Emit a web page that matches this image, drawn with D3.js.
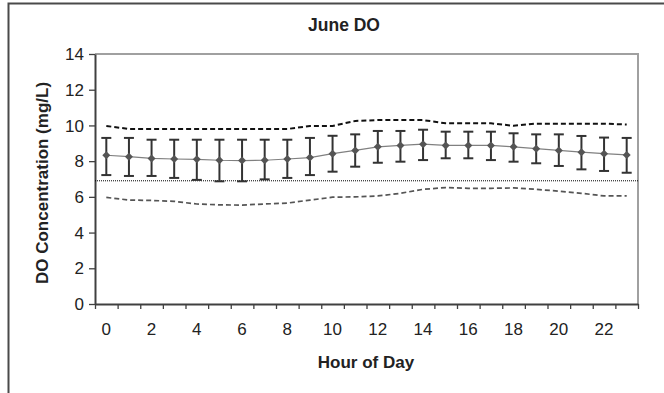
<!DOCTYPE html>
<html><head><meta charset="utf-8">
<script src="https://cdn.jsdelivr.net/npm/d3@7"></script>
<style>body{margin:0;background:#fff;} svg{display:block;}</style>
</head><body>
<script>
const hours = d3.range(0, 24);
const meanDO = [8.33, 8.25, 8.15, 8.12, 8.1, 8.05, 8.03, 8.05, 8.12, 8.2, 8.42, 8.6, 8.8, 8.88, 8.95, 8.88, 8.88, 8.88, 8.8, 8.7, 8.6, 8.5, 8.42, 8.35];
const errHigh = [9.3, 9.3, 9.2, 9.2, 9.2, 9.2, 9.2, 9.2, 9.2, 9.3, 9.42, 9.5, 9.69, 9.69, 9.76, 9.65, 9.65, 9.65, 9.56, 9.5, 9.5, 9.41, 9.32, 9.3];
const errLow = [7.22, 7.17, 7.17, 7.06, 6.95, 6.87, 6.87, 6.98, 7.06, 7.22, 7.41, 7.69, 7.91, 7.97, 8.06, 8.16, 8.16, 8.06, 7.97, 7.88, 7.73, 7.54, 7.45, 7.35];
const maxDO = [9.97, 9.8, 9.8, 9.8, 9.8, 9.8, 9.8, 9.8, 9.8, 9.97, 9.97, 10.25, 10.3, 10.3, 10.3, 10.12, 10.12, 10.12, 9.98, 10.1, 10.1, 10.1, 10.1, 10.05];
const minDO = [5.97, 5.82, 5.8, 5.75, 5.6, 5.55, 5.54, 5.6, 5.65, 5.82, 5.98, 6.0, 6.05, 6.2, 6.42, 6.52, 6.48, 6.48, 6.5, 6.42, 6.32, 6.2, 6.05, 6.05];
const standardDO = 6.9;
const yTicks = [0, 2, 4, 6, 8, 10, 12, 14];
const xTickLabels = [0, 2, 4, 6, 8, 10, 12, 14, 16, 18, 20, 22];

const W = 664, H = 393;
const L = 95, R = 638, T = 54, B = 304;
const svg = d3.select("body").append("svg").attr("width", W).attr("height", H);
const font = "'Liberation Sans', Arial, sans-serif";

// outer border
svg.append("rect").attr("x", 8.5).attr("y", 3.5).attr("width", 700).attr("height", 450)
  .attr("fill", "none").attr("stroke", "#4a4a4a").attr("stroke-width", 2);

const x = d3.scaleBand().domain(hours).range([L, R]).padding(0);
const xEdge = d3.scaleLinear().domain([0, 24]).range([L, R]);
const y = d3.scaleLinear().domain([0, 14]).range([B, T]);
const cx = h => x(h) + x.bandwidth() / 2;

// plot frame top/right
svg.append("path").attr("d", `M${L},${T}H${R}V${B}`).attr("fill", "none")
  .attr("stroke", "#a0a0a0").attr("stroke-width", 2);

// axes
const gx = svg.append("g").attr("transform", `translate(0,${B})`)
  .call(d3.axisBottom(xEdge).tickValues(d3.range(25)).tickFormat("").tickSize(5).tickSizeOuter(0));
const gy = svg.append("g").attr("transform", `translate(${L},0)`)
  .call(d3.axisLeft(y).tickValues(yTicks).tickFormat("").tickSize(6).tickSizeOuter(0));
[gx, gy].forEach(g => {
  g.select(".domain").attr("stroke", "#404040").attr("stroke-width", 2);
  g.selectAll(".tick line").attr("stroke", "#404040").attr("stroke-width", 1.3);
});

// tick labels
svg.append("g").selectAll("text").data(yTicks).join("text")
  .attr("x", 84).attr("y", d => y(d)).attr("dy", "0.36em")
  .attr("text-anchor", "end").attr("font-family", font).attr("font-size", 17).attr("fill", "#222")
  .text(d => d);
svg.append("g").selectAll("text").data(xTickLabels).join("text")
  .attr("x", d => cx(d)).attr("y", 335)
  .attr("text-anchor", "middle").attr("font-family", font).attr("font-size", 17).attr("fill", "#222")
  .text(d => d);

// titles
svg.append("text").attr("x", 344).attr("y", 31).attr("text-anchor", "middle")
  .attr("font-family", font).attr("font-weight", "bold").attr("font-size", 17.5).attr("fill", "#222").text("June DO");
svg.append("text").attr("x", 366).attr("y", 368).attr("text-anchor", "middle")
  .attr("font-family", font).attr("font-weight", "bold").attr("font-size", 17).attr("fill", "#222").text("Hour of Day");
svg.append("text").attr("transform", `translate(48,${(T + B) / 2 + 4}) rotate(-90)`).attr("text-anchor", "middle")
  .attr("font-family", font).attr("font-weight", "bold").attr("font-size", 17).attr("fill", "#222")
  .text("DO Concentration (mg/L)");

// standard dotted line
svg.append("line").attr("x1", L).attr("x2", R).attr("y1", y(standardDO)).attr("y2", y(standardDO))
  .attr("stroke", "#000").attr("stroke-width", 1).attr("stroke-dasharray", "1,1");

// max / min dashed lines
const line = d3.line().x((d, i) => cx(hours[i])).y(d => y(d));
svg.append("path").datum(maxDO).attr("d", line).attr("fill", "none")
  .attr("stroke", "#111").attr("stroke-width", 2).attr("stroke-dasharray", "5,3");
svg.append("path").datum(minDO).attr("d", line).attr("fill", "none")
  .attr("stroke", "#555").attr("stroke-width", 1.7).attr("stroke-dasharray", "5,3");

// mean line
svg.append("path").datum(meanDO).attr("d", line).attr("fill", "none")
  .attr("stroke", "#808080").attr("stroke-width", 1.2);

// error bars
const eb = svg.append("g").attr("stroke", "#333").attr("stroke-width", 2);
eb.selectAll("line.v").data(hours).join("line").attr("class", "v")
  .attr("x1", d => cx(d)).attr("x2", d => cx(d))
  .attr("y1", (d, i) => y(errHigh[i])).attr("y2", (d, i) => y(errLow[i]));
eb.selectAll("line.t").data(hours).join("line").attr("class", "t")
  .attr("x1", d => cx(d) - 5).attr("x2", d => cx(d) + 5)
  .attr("y1", (d, i) => y(errHigh[i])).attr("y2", (d, i) => y(errHigh[i]));
eb.selectAll("line.b").data(hours).join("line").attr("class", "b")
  .attr("x1", d => cx(d) - 5).attr("x2", d => cx(d) + 5)
  .attr("y1", (d, i) => y(errLow[i])).attr("y2", (d, i) => y(errLow[i]));

// markers
svg.append("g").selectAll("path").data(hours).join("path")
  .attr("transform", (d, i) => `translate(${cx(d)},${y(meanDO[i])})`)
  .attr("d", "M0,-4L4,0L0,4L-4,0Z").attr("fill", "#555");
</script>
</body></html>
